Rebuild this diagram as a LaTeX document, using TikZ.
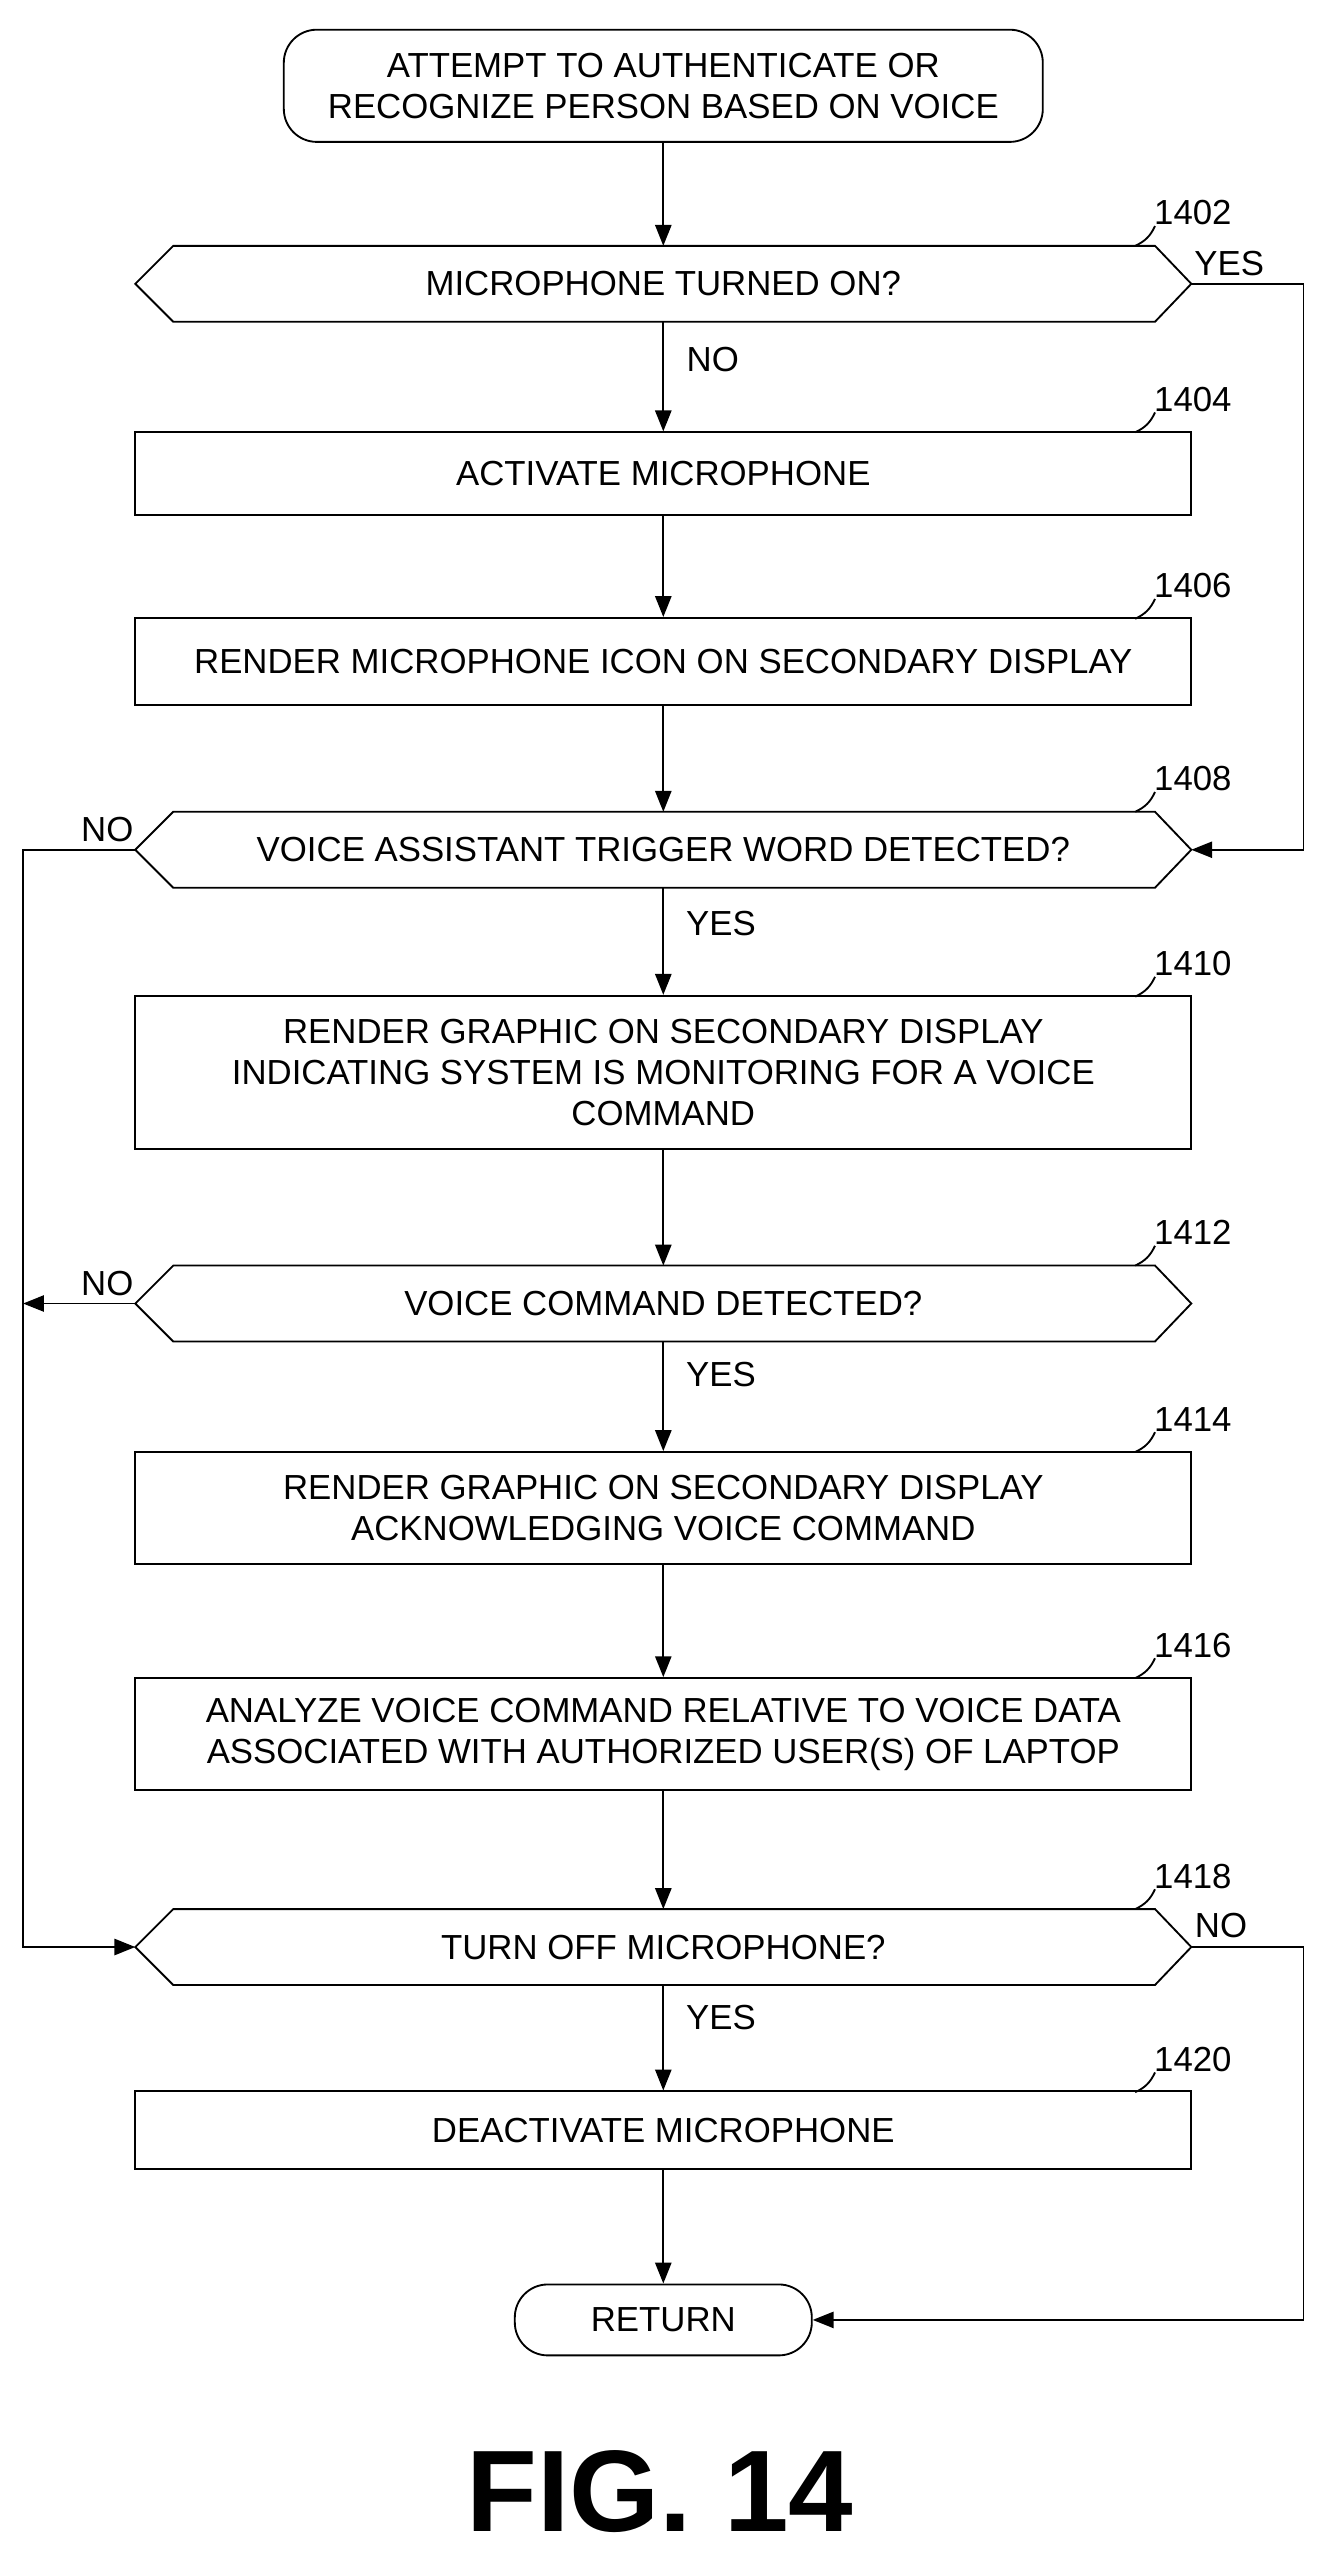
\documentclass[tikz,border=0pt]{standalone}
\usepackage{fontspec}
\setmainfont{Liberation Sans}
\usetikzlibrary{arrows.meta}
\begin{document}
\begin{tikzpicture}[x=0.05cm,y=-0.05cm,
  every node/.style={font=\fontsize{30}{35}\selectfont},
  box/.style={draw,line width=1.6pt,minimum width=640*0.05cm,align=center,inner sep=0pt},
  term/.style={draw,line width=1.6pt,rounded corners=20*0.05cm,align=center,inner sep=0pt},
  ln/.style={line width=1.6pt},
  ar/.style={ln,-{Triangle[length=18pt,width=14pt]}},
  lab/.style={font=\fontsize{30}{35}\selectfont}]
\useasboundingbox (0,0) rectangle (800,1560);
\newcommand{\hexa}[3]{% name, centre y, text
  \draw[ln] (82,#2) -- (105,#2-23) -- (700,#2-23) -- (722,#2) -- (700,#2+23) -- (105,#2+23) -- cycle;
  \node (#1) at (402,#2) {#3};
  \coordinate (#1L) at (82,#2); \coordinate (#1R) at (722,#2);
  \coordinate (#1T) at (402,#2-23); \coordinate (#1B) at (402,#2+23);}
\newcommand{\reflab}[3]{% text, x-end corner, y-top of shape
  \node[lab,anchor=south west] at (#2-25,#3-10) {#1};
  \draw[ln] (#2-22,#3-12) to[bend left=20] (#2-34,#3);}
% start
\node[term,minimum width=460*0.05cm,minimum height=68*0.05cm] (start) at (402,52)
  {ATTEMPT TO AUTHENTICATE OR\\RECOGNIZE PERSON BASED ON VOICE};
\hexa{d1402}{172}{MICROPHONE TURNED ON?}
\node[box,minimum height=50*0.05cm] (b1404) at (402,287) {ACTIVATE MICROPHONE};
\node[box,minimum height=53*0.05cm] (b1406) at (402,401) {RENDER MICROPHONE ICON ON SECONDARY DISPLAY};
\hexa{d1408}{515}{VOICE ASSISTANT TRIGGER WORD DETECTED?}
\node[box,minimum height=93*0.05cm] (b1410) at (402,650) {RENDER GRAPHIC ON SECONDARY DISPLAY\\INDICATING SYSTEM IS MONITORING FOR A VOICE\\COMMAND};
\hexa{d1412}{790}{VOICE COMMAND DETECTED?}
\node[box,minimum height=68*0.05cm] (b1414) at (402,914) {RENDER GRAPHIC ON SECONDARY DISPLAY\\ACKNOWLEDGING VOICE COMMAND};
\node[box,minimum height=68*0.05cm] (b1416) at (402,1051) {ANALYZE VOICE COMMAND RELATIVE TO VOICE DATA\\ASSOCIATED WITH AUTHORIZED USER(S) OF LAPTOP};
\hexa{d1418}{1180}{TURN OFF MICROPHONE?}
\node[box,minimum height=47*0.05cm] (b1420) at (402,1291) {DEACTIVATE MICROPHONE};
\node[term,minimum width=180*0.05cm,minimum height=43*0.05cm] (ret) at (402,1406) {RETURN};
\node[font=\fontsize{100}{105}\selectfont\bfseries] (fig) at (400,1510) {FIG. 14};
% ref labels
\reflab{1402}{722}{149}
\reflab{1404}{722}{262}
\reflab{1406}{722}{375}
\reflab{1408}{722}{492}
\reflab{1410}{722}{604}
\reflab{1412}{722}{767}
\reflab{1414}{722}{880}
\reflab{1416}{722}{1017}
\reflab{1418}{722}{1157}
\reflab{1420}{722}{1268}
% main flow
\draw[ar] (start) -- (d1402T);
\draw[ar] (d1402B) -- (b1404);
\draw[ar] (b1404) -- (b1406);
\draw[ar] (b1406) -- (d1408T);
\draw[ar] (d1408B) -- (b1410);
\draw[ar] (b1410) -- (d1412T);
\draw[ar] (d1412B) -- (b1414);
\draw[ar] (b1414) -- (b1416);
\draw[ar] (b1416) -- (d1418T);
\draw[ar] (d1418B) -- (b1420);
\draw[ar] (b1420) -- (ret);
\node at (432,218) {NO};
\node at (437,560) {YES};
\node at (437,833) {YES};
\node at (437,1223) {YES};
% side loops
\coordinate (r1) at (790,172); \coordinate (r2) at (790,515);
\draw[ar] (d1402R) -- (r1) -- (r2) -- (d1408R);
\node at (745,160) {YES};
\coordinate (l1) at (14,515); \coordinate (l2) at (14,1180);
\draw[ar] (d1408L) -- (l1) -- (l2) -- (d1418L);
\node at (65,503) {NO};
\coordinate (l3) at (14,790);
\draw[ar] (d1412L) -- (l3);
\node at (65,778) {NO};
\coordinate (r3) at (790,1180); \coordinate (r4) at (790,1406);
\draw[ar] (d1418R) -- (r3) -- (r4) -- (ret);
\node at (740,1167) {NO};
\end{tikzpicture}
\end{document}
